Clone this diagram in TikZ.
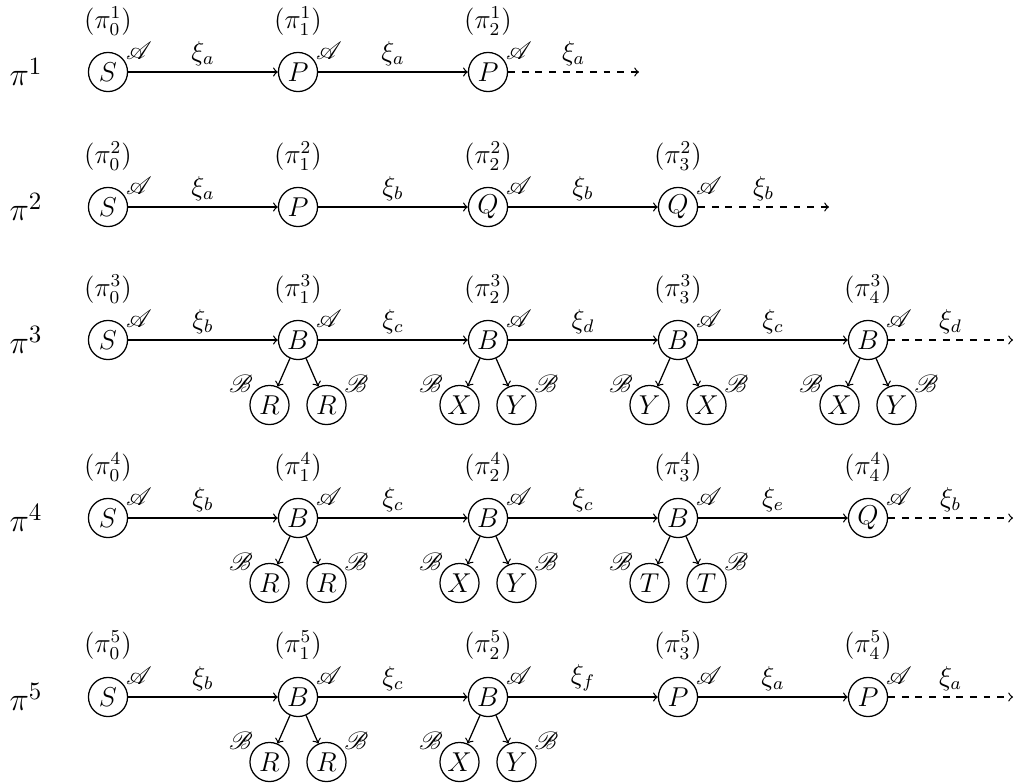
\documentclass[tikz,border=0pt]{standalone}
\usepackage{mathrsfs}
\begin{document}
\begin{tikzpicture}[x=0.44pt,y=-0.44pt,line width=0.55pt,
  font=\fontsize{12}{14}\selectfont,
  st/.style={draw,circle,inner sep=0pt,minimum size=17.2pt},
  lA/.style={label={[font=\fontsize{11}{13}\selectfont,inner sep=0pt,xshift=13.6pt,yshift=9.2pt]center:$\mathscr{A}$}},
  lBl/.style={label={[font=\fontsize{11}{13}\selectfont,inner sep=0pt,xshift=-12.6pt,yshift=9.2pt]center:$\mathscr{B}$}},
  lBr/.style={label={[font=\fontsize{11}{13}\selectfont,inner sep=0pt,xshift=13.2pt,yshift=9.2pt]center:$\mathscr{B}$}},
  rowlab/.style={font=\fontsize{15}{18}\selectfont},
  plab/.style={},
  edge/.style={->},
  dedge/.style={->,dashed},
  elab/.style={above,inner sep=2.5pt}
]
\useasboundingbox (0,0) rectangle (1014,782);
% ---------- row 1
\node[rowlab] (r1) at (26,72) {$\pi^1$};
\node[plab] (p10) at (108,21) {$(\pi^1_0)$};
\node[plab] (p11) at (298,21) {$(\pi^1_1)$};
\node[plab] (p12) at (488,21) {$(\pi^1_2)$};
\node[st,lA] (a10) at (108,72) {$S$};
\node[st,lA] (a11) at (298,72) {$P$};
\node[st,lA] (a12) at (488,72) {$P$};
\coordinate (e1) at (639,72);
\draw[edge] (a10) -- node[elab]{$\xi_a$} (a11);
\draw[edge] (a11) -- node[elab]{$\xi_a$} (a12);
\draw[dedge] (a12) -- node[elab]{$\xi_a$} (e1);
% ---------- row 2
\node[rowlab] (r2) at (26,207) {$\pi^2$};
\node[plab] (p20) at (108,156) {$(\pi^2_0)$};
\node[plab] (p21) at (298,156) {$(\pi^2_1)$};
\node[plab] (p22) at (488,156) {$(\pi^2_2)$};
\node[plab] (p23) at (678,156) {$(\pi^2_3)$};
\node[st,lA] (a20) at (108,207) {$S$};
\node[st] (a21) at (298,207) {$P$};
\node[st,lA] (a22) at (488,207) {$Q$};
\node[st,lA] (a23) at (678,207) {$Q$};
\coordinate (e2) at (829,207);
\draw[edge] (a20) -- node[elab]{$\xi_a$} (a21);
\draw[edge] (a21) -- node[elab]{$\xi_b$} (a22);
\draw[edge] (a22) -- node[elab]{$\xi_b$} (a23);
\draw[dedge] (a23) -- node[elab]{$\xi_b$} (e2);
% ---------- row 3
\node[rowlab] (r3) at (26,340) {$\pi^3$};
\node[plab] (p30) at (108,289) {$(\pi^3_0)$};
\node[plab] (p31) at (298,289) {$(\pi^3_1)$};
\node[plab] (p32) at (488,289) {$(\pi^3_2)$};
\node[plab] (p33) at (678,289) {$(\pi^3_3)$};
\node[plab] (p34) at (868,289) {$(\pi^3_4)$};
\node[st,lA] (a30) at (108,340) {$S$};
\node[st,lA] (a31) at (298,340) {$B$};
\node[st,lA] (a32) at (488,340) {$B$};
\node[st,lA] (a33) at (678,340) {$B$};
\node[st,lA] (a34) at (868,340) {$B$};
\coordinate (e3) at (1013,340);
\draw[edge] (a30) -- node[elab]{$\xi_b$} (a31);
\draw[edge] (a31) -- node[elab]{$\xi_c$} (a32);
\draw[edge] (a32) -- node[elab]{$\xi_d$} (a33);
\draw[edge] (a33) -- node[elab]{$\xi_c$} (a34);
\draw[dedge] (a34) -- node[elab]{$\xi_d$} (e3);
\node[st,lBl] (c31l) at (269.5,405) {$R$};
\node[st,lBr] (c31r) at (326.5,405) {$R$};
\node[st,lBl] (c32l) at (459.5,405) {$X$};
\node[st,lBr] (c32r) at (516.5,405) {$Y$};
\node[st,lBl] (c33l) at (649.5,405) {$Y$};
\node[st,lBr] (c33r) at (706.5,405) {$X$};
\node[st,lBl] (c34l) at (839.5,405) {$X$};
\node[st,lBr] (c34r) at (896.5,405) {$Y$};
\draw[edge] (a31) -- (c31l);
\draw[edge] (a31) -- (c31r);
\draw[edge] (a32) -- (c32l);
\draw[edge] (a32) -- (c32r);
\draw[edge] (a33) -- (c33l);
\draw[edge] (a33) -- (c33r);
\draw[edge] (a34) -- (c34l);
\draw[edge] (a34) -- (c34r);
% ---------- row 4
\node[rowlab] (r4) at (26,518) {$\pi^4$};
\node[plab] (p40) at (108,467) {$(\pi^4_0)$};
\node[plab] (p41) at (298,467) {$(\pi^4_1)$};
\node[plab] (p42) at (488,467) {$(\pi^4_2)$};
\node[plab] (p43) at (678,467) {$(\pi^4_3)$};
\node[plab] (p44) at (868,467) {$(\pi^4_4)$};
\node[st,lA] (a40) at (108,518) {$S$};
\node[st,lA] (a41) at (298,518) {$B$};
\node[st,lA] (a42) at (488,518) {$B$};
\node[st,lA] (a43) at (678,518) {$B$};
\node[st,lA] (a44) at (868,518) {$Q$};
\coordinate (e4) at (1013,518);
\draw[edge] (a40) -- node[elab]{$\xi_b$} (a41);
\draw[edge] (a41) -- node[elab]{$\xi_c$} (a42);
\draw[edge] (a42) -- node[elab]{$\xi_c$} (a43);
\draw[edge] (a43) -- node[elab]{$\xi_e$} (a44);
\draw[dedge] (a44) -- node[elab]{$\xi_b$} (e4);
\node[st,lBl] (c41l) at (269.5,583) {$R$};
\node[st,lBr] (c41r) at (326.5,583) {$R$};
\node[st,lBl] (c42l) at (459.5,583) {$X$};
\node[st,lBr] (c42r) at (516.5,583) {$Y$};
\node[st,lBl] (c43l) at (649.5,583) {$T$};
\node[st,lBr] (c43r) at (706.5,583) {$T$};
\draw[edge] (a41) -- (c41l);
\draw[edge] (a41) -- (c41r);
\draw[edge] (a42) -- (c42l);
\draw[edge] (a42) -- (c42r);
\draw[edge] (a43) -- (c43l);
\draw[edge] (a43) -- (c43r);
% ---------- row 5
\node[rowlab] (r5) at (26,697) {$\pi^5$};
\node[plab] (p50) at (108,645) {$(\pi^5_0)$};
\node[plab] (p51) at (298,645) {$(\pi^5_1)$};
\node[plab] (p52) at (488,645) {$(\pi^5_2)$};
\node[plab] (p53) at (678,645) {$(\pi^5_3)$};
\node[plab] (p54) at (868,645) {$(\pi^5_4)$};
\node[st,lA] (a50) at (108,697) {$S$};
\node[st,lA] (a51) at (298,697) {$B$};
\node[st,lA] (a52) at (488,697) {$B$};
\node[st,lA] (a53) at (678,697) {$P$};
\node[st,lA] (a54) at (868,697) {$P$};
\coordinate (e5) at (1013,697);
\draw[edge] (a50) -- node[elab]{$\xi_b$} (a51);
\draw[edge] (a51) -- node[elab]{$\xi_c$} (a52);
\draw[edge] (a52) -- node[elab]{$\xi_f$} (a53);
\draw[edge] (a53) -- node[elab]{$\xi_a$} (a54);
\draw[dedge] (a54) -- node[elab]{$\xi_a$} (e5);
\node[st,lBl] (c51l) at (269.5,762) {$R$};
\node[st,lBr] (c51r) at (326.5,762) {$R$};
\node[st,lBl] (c52l) at (459.5,762) {$X$};
\node[st,lBr] (c52r) at (516.5,762) {$Y$};
\draw[edge] (a51) -- (c51l);
\draw[edge] (a51) -- (c51r);
\draw[edge] (a52) -- (c52l);
\draw[edge] (a52) -- (c52r);
\end{tikzpicture}
\end{document}
